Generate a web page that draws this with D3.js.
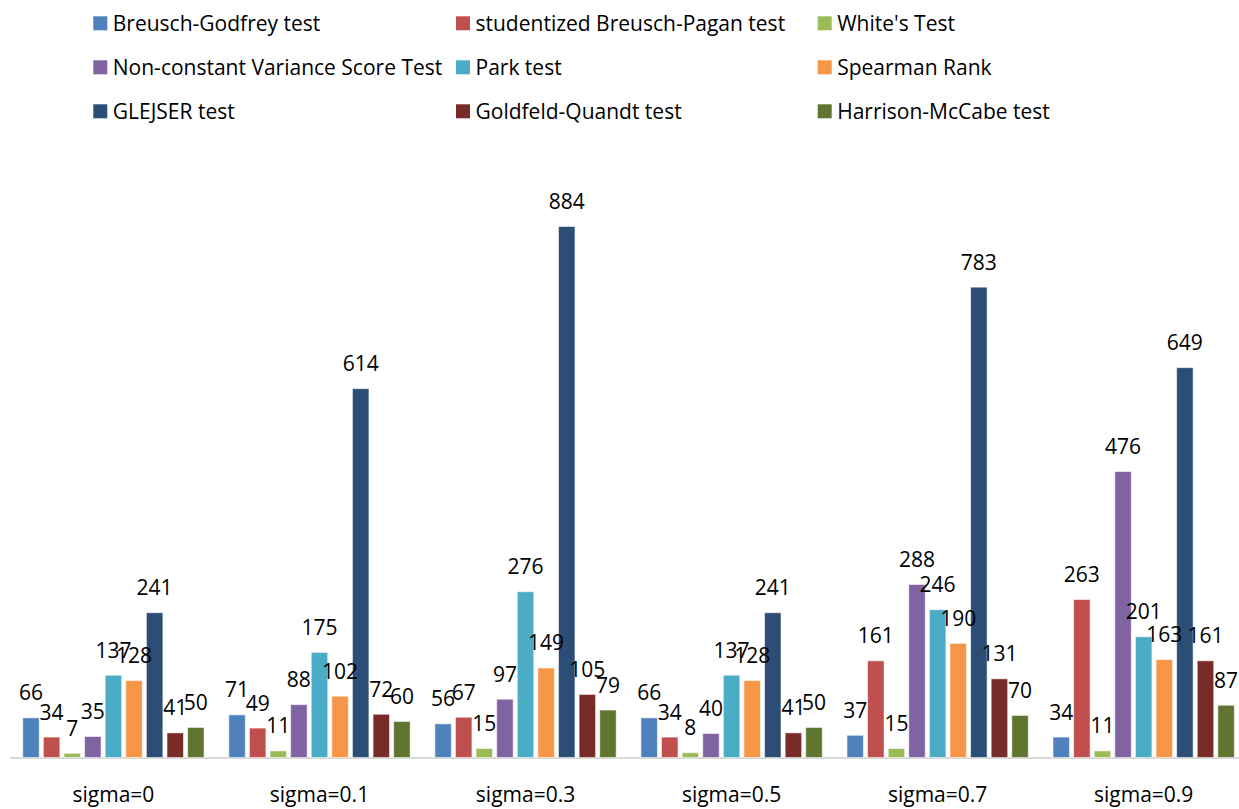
<!DOCTYPE html>
<html>
<head>
<meta charset="utf-8">
<script src="https://cdn.jsdelivr.net/npm/d3@7"></script>
<style>
  html, body { margin: 0; padding: 0; background: #fff; }
  svg { display: block; }
  text { font-family: "Open Sans", "Noto Sans", sans-serif; fill: #000; }
</style>
</head>
<body>
<svg id="chart" width="1239" height="809"></svg>
<script>
const categories = ["sigma=0", "sigma=0.1", "sigma=0.3", "sigma=0.5", "sigma=0.7", "sigma=0.9"];
const seriesNames = [
  "Breusch-Godfrey test", "studentized Breusch-Pagan test", "White's Test",
  "Non-constant Variance Score Test", "Park test", "Spearman Rank",
  "GLEJSER test", "Goldfeld-Quandt test", "Harrison-McCabe test"
];
const seriesColors = ["#4F81BD", "#C0504D", "#9BBB59", "#8064A2", "#4BACC6", "#F79646", "#2C4D75", "#772C2A", "#5F7530"];
const breuschGodfrey = [66, 71, 56, 66, 37, 34];
const studentizedBP  = [34, 49, 67, 34, 161, 263];
const whitesTest     = [7, 11, 15, 8, 15, 11];
const ncvTest        = [35, 88, 97, 40, 288, 476];
const parkTest       = [137, 175, 276, 137, 246, 201];
const spearmanRank   = [128, 102, 149, 128, 190, 163];
const glejserTest    = [241, 614, 884, 241, 783, 649];
const goldfeldQuandt = [41, 72, 105, 41, 131, 161];
const harrisonMcCabe = [50, 60, 79, 50, 70, 87];
const seriesValues = [breuschGodfrey, studentizedBP, whitesTest, ncvTest, parkTest, spearmanRank, glejserTest, goldfeldQuandt, harrisonMcCabe];

const svg = d3.select("#chart");
const FS = 21;

const x0 = d3.scaleBand().domain(categories).range([10.4, 1246.7]).padding(0);
const x1 = d3.scaleBand().domain(seriesNames).range([0, x0.bandwidth()]).paddingInner(0.2).paddingOuter(0.6);
const y = d3.scaleLinear().domain([0, 1000]).range([757.5, 757.5 - 600.7]);

// baseline
svg.append("line")
  .attr("x1", 10).attr("x2", 1239)
  .attr("y1", y(0) + 0.5).attr("y2", y(0) + 0.5)
  .attr("stroke", "#d9d9d9").attr("stroke-width", 2);

const data = [];
categories.forEach((c, ci) => {
  seriesNames.forEach((s, si) => {
    data.push({cat: c, series: s, value: seriesValues[si][ci], color: seriesColors[si]});
  });
});

const g = svg.append("g");
g.selectAll("rect").data(data).enter().append("rect")
  .attr("x", d => x0(d.cat) + x1(d.series))
  .attr("y", d => y(d.value))
  .attr("width", x1.bandwidth())
  .attr("height", d => y(0) - y(d.value))
  .attr("fill", d => d.color)
  .attr("stroke", "#ffffff").attr("stroke-opacity", 0.55).attr("stroke-width", 1);

g.selectAll("text.val").data(data).enter().append("text")
  .attr("class", "val")
  .attr("x", d => x0(d.cat) + x1(d.series) + x1.bandwidth() / 2)
  .attr("y", d => y(d.value) - 17.5)
  .attr("text-anchor", "middle")
  .style("font-size", FS + "px")
  .text(d => d.value);

// x axis labels
const xAxis = d3.axisBottom(x0).tickSize(0).tickPadding(0);
const ax = svg.append("g").attr("transform", `translate(0, ${y(0)})`).call(xAxis);
ax.select(".domain").remove();
ax.selectAll("text")
  .attr("dy", null).attr("y", 44.5)
  .style("font-size", FS + "px")
  .style("font-family", '"Open Sans", "Noto Sans", sans-serif')
  .attr("fill", "#000");

// legend
const legendCols = [93.3, 456, 817.7];
const legend = svg.append("g");
seriesNames.forEach((s, i) => {
  const row = Math.floor(i / 3), col = i % 3;
  const lx = legendCols[col], ly = 16.3 + row * 44;
  legend.append("rect").attr("x", lx).attr("y", ly).attr("width", 14).attr("height", 14).attr("fill", seriesColors[i]);
  legend.append("text").attr("x", lx + 19.5).attr("y", ly + 14.2)
    .style("font-size", FS + "px").text(s);
});
</script>
</body>
</html>
